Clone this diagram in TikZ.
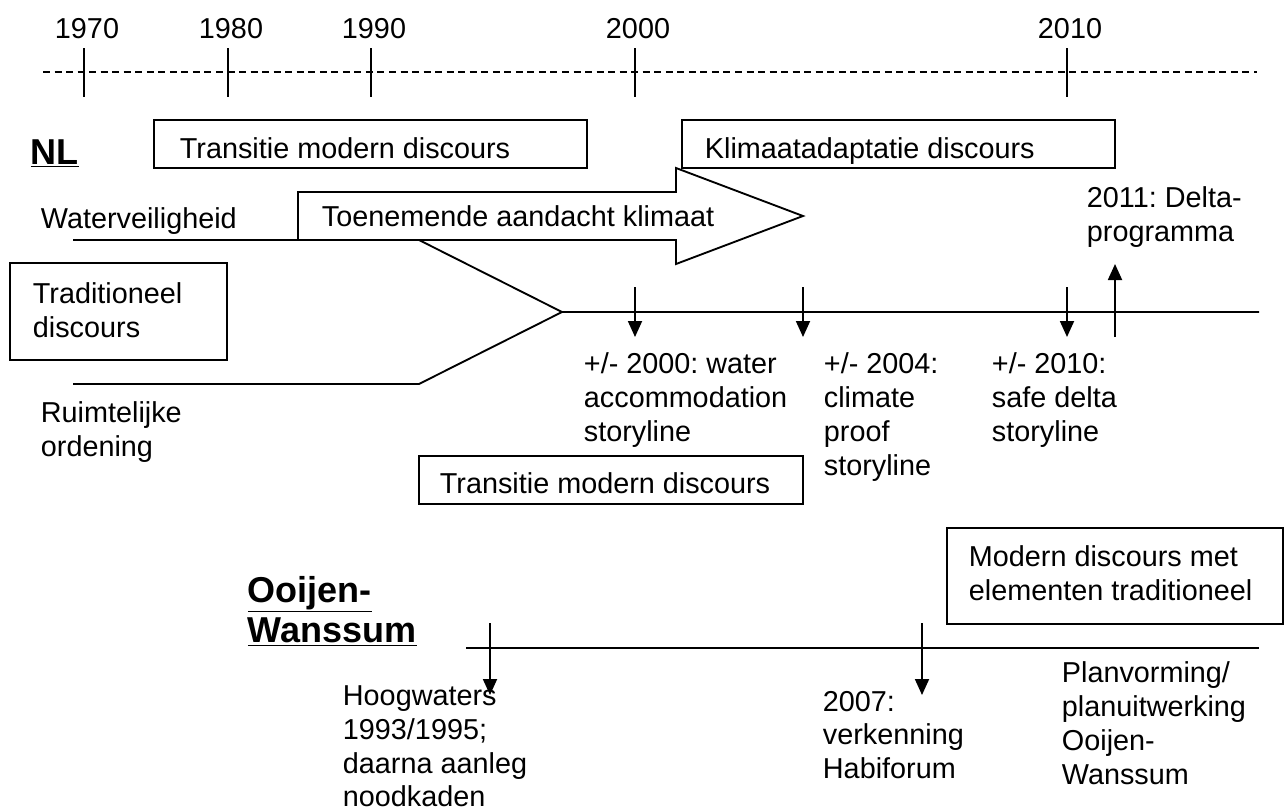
\documentclass[tikz,border=0pt]{standalone}
\usepackage{fontspec}
\setmainfont{Liberation Sans}
\usetikzlibrary{arrows.meta}

\begin{document}
\begin{tikzpicture}[x=0.75pt,y=0.75pt,yscale=-1,xscale=1,
  line width=1.4pt,
  txt/.style={font=\fontsize{21.6}{25.3}\selectfont\frenchspacing, inner sep=0pt, align=left},
  hdr/.style={font=\fontsize{27}{30.5}\selectfont\bfseries, inner sep=0pt, align=left},
  pijl/.style={-{Triangle[width=10.5pt,length=12pt]}}]
\path[use as bounding box] (0,0) rectangle (1284,811);

% Time axis
\draw[dash pattern=on 5.25pt off 3.4pt, line width=1.1pt] (43,72) -- (1257,72);
\foreach \jaar/\xx in {1970/84,1980/228,1990/371,2000/635,2010/1067}{
  \draw[line width=1.1pt] (\xx,48) -- (\xx,97);
  \node[txt, anchor=base] (j\jaar) at (\xx+3,38) {\jaar};
}

% Text Node
\node[hdr, anchor=north west] (nl) at (30,139) {\underline{NL}};

%Shape: Rectangle
\draw (154,120) rectangle (587,168);
% Text Node
\node[txt, anchor=base west] (transA) at (179,158) {Transitie modern discours};
%Shape: Rectangle
\draw (682,120) rectangle (1115,168);
% Text Node
\node[txt, anchor=base west] (klimaat) at (704,158) {Klimaatadaptatie discours};

%Shape: Lines (two streams merging)
\coordinate (wvA) at (73,240);
\coordinate (wvB) at (419,240);
\coordinate (roA) at (73,384);
\coordinate (roB) at (419,384);
\coordinate (samen) at (562,312);
\coordinate (eindNL) at (1259,312);
\draw (wvA) -- (wvB) -- (samen) -- (eindNL);
\draw (roA) -- (roB) -- (samen);

%Shape: Right Arrow
\draw[fill=white] (298,192) -- (676,192) -- (676,168) -- (803,216) -- (676,264) -- (676,240) -- (298,240) -- cycle;
% Text Node
\node[txt, anchor=base west] (aandacht) at (321,226) {Toenemende aandacht klimaat};

% Text Node
\node[txt, anchor=base west] (water) at (40,228) {Waterveiligheid};
%Shape: Rectangle
\draw (10,263) rectangle (227,360);
% Text Node
\node[txt, anchor=north west] (trad) at (32,282) {Traditioneel\\discours};
% Text Node
\node[txt, anchor=north west] (ruimte) at (40,401) {Ruimtelijke\\ordening};

% Events NL
\foreach \nm/\xx in {e2000/635,e2004/803,e2010/1067}{
  \coordinate (\nm a) at (\xx,287);
  \coordinate (\nm b) at (\xx,337);
  \draw[pijl] (\nm a) -- (\nm b);
}
\coordinate (e2011a) at (1115,337);
\coordinate (e2011b) at (1115,264);
\draw[pijl] (e2011a) -- (e2011b);

% Text Node
\node[txt, anchor=north west] (s2000) at (583,352) {+/- 2000: water\\accommodation\\storyline};
% Text Node
\node[txt, anchor=north west] (s2004) at (823,352) {+/- 2004:\\climate\\proof\\storyline};
% Text Node
\node[txt, anchor=north west] (s2010) at (991,352) {+/- 2010:\\safe delta\\storyline};
% Text Node
\node[txt, anchor=north west] (s2011) at (1086,186) {2011: Delta-\\programma};

%Shape: Rectangle
\draw (419,456) rectangle (803,504);
% Text Node
\node[txt, anchor=base west] (transB) at (439,493) {Transitie modern discours};

% Ooijen-Wanssum
\node[hdr, anchor=north west] (ooijen) at (247,575) {\underline{Ooijen-}\\\underline{Wanssum}};
%Shape: Rectangle
\draw (947,528) rectangle (1283,624);
% Text Node
\node[txt, anchor=north west] (modern) at (968,545) {Modern discours met\\elementen traditioneel};

\coordinate (owA) at (466,648);
\coordinate (owB) at (1259,648);
\draw (owA) -- (owB);
\foreach \nm/\xx in {h1993/490,v2007/922}{
  \coordinate (\nm a) at (\xx,623);
  \coordinate (\nm b) at (\xx,695);
  \draw[pijl] (\nm a) -- (\nm b);
}

% Text Node
\node[txt, anchor=north west] (hoog) at (342,685) {Hoogwaters\\1993/1995;\\daarna aanleg\\noodkaden};
% Text Node
\node[txt, anchor=north west] (verk) at (822,690) {2007:\\verkenning\\Habiforum};
% Text Node
\node[txt, anchor=north west] (plan) at (1061,661) {Planvorming/\\planuitwerking\\Ooijen-\\Wanssum};

\end{tikzpicture}
\end{document}
